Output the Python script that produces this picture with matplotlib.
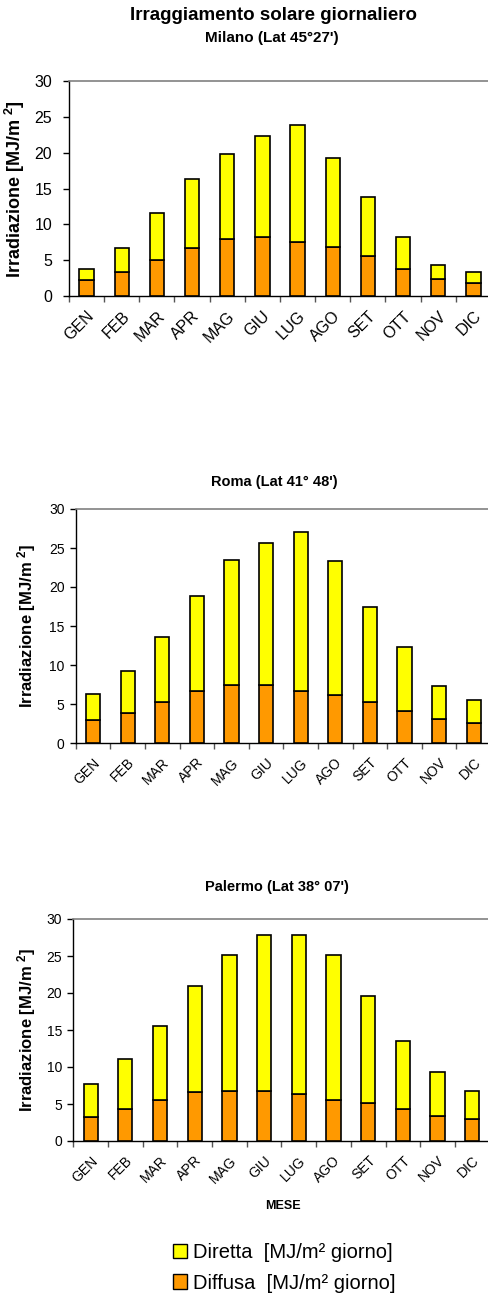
import matplotlib
matplotlib.use("Agg")
import matplotlib.pyplot as plt
from matplotlib.patches import Patch
import numpy as np

plt.rcParams['font.family'] = ['Liberation Sans', 'DejaVu Sans']
plt.rcParams['mathtext.fontset'] = 'custom'
plt.rcParams['mathtext.rm'] = 'Liberation Sans'
plt.rcParams['mathtext.bf'] = 'Liberation Sans:bold'

months = ["GEN", "FEB", "MAR", "APR", "MAG", "GIU",
          "LUG", "AGO", "SET", "OTT", "NOV", "DIC"]

# Daily irradiation [MJ/m² day]: total and diffuse component
milano_totale = [3.8, 6.7, 11.6, 16.4, 19.9, 22.3, 23.9, 19.3, 13.9, 8.2, 4.4, 3.3]
milano_diffusa = [2.2, 3.4, 5.0, 6.7, 7.9, 8.2, 7.5, 6.9, 5.6, 3.8, 2.4, 1.8]

roma_totale = [6.3, 9.2, 13.6, 18.9, 23.5, 25.7, 27.1, 23.3, 17.5, 12.3, 7.3, 5.5]
roma_diffusa = [2.9, 3.9, 5.3, 6.7, 7.4, 7.5, 6.7, 6.2, 5.3, 4.1, 3.1, 2.6]

palermo_totale = [7.7, 11.1, 15.6, 20.9, 25.2, 27.9, 27.9, 25.2, 19.6, 13.5, 9.3, 6.8]
palermo_diffusa = [3.2, 4.3, 5.5, 6.6, 6.8, 6.8, 6.3, 5.5, 5.2, 4.3, 3.4, 3.0]

YELLOW = "#FFFF00"
ORANGE = "#FF9900"

W, H = 489, 1296
fig = plt.figure(figsize=(W / 100, H / 100), dpi=100)


def px_axes(left, top, right, bottom):
    return fig.add_axes([left / W, 1 - bottom / H, (right - left) / W, (bottom - top) / H])


def draw_panel(ax, totale, diffusa, tick_fs, ylab_fs, ylab_x, ypad):
    x = np.arange(len(months))
    totale = np.asarray(totale)
    diffusa = np.asarray(diffusa)
    diretta = totale - diffusa
    ax.bar(x, diffusa, width=0.41, color=ORANGE, edgecolor="black", linewidth=1.2, zorder=3)
    ax.bar(x, diretta, width=0.41, bottom=diffusa, color=YELLOW, edgecolor="black",
           linewidth=1.2, zorder=3)
    ax.set_xlim(-0.5, 11.5)
    ax.set_ylim(0, 30)
    ax.set_yticks(np.arange(0, 31, 5))
    ax.set_xticks(x)
    ax.set_xticklabels(months, rotation=45, ha="right", rotation_mode="anchor",
                       fontsize=tick_fs)
    ax.set_xticks(np.arange(-0.5, 11.6, 1.0), minor=True)
    ax.tick_params(axis="x", which="major", length=0, pad=9)
    ax.tick_params(axis="x", which="minor", length=4, width=1, color="#555555")
    ax.tick_params(axis="y", length=4, width=1, labelsize=tick_fs, pad=ypad)
    for s in ("left", "bottom"):
        ax.spines[s].set_color("black")
        ax.spines[s].set_linewidth(1.0)
    ax.spines["top"].set_color("#808080")
    ax.spines["top"].set_linewidth(1.2)
    ax.spines["right"].set_visible(False)
    ax.set_ylabel(r"Irradiazione [MJ/m $\mathbf{^{2}}$]", fontsize=ylab_fs,
                  fontweight="bold")
    ax.yaxis.set_label_coords(ylab_x, 0.5)


# Milano
ax1 = px_axes(69, 81.3, 491, 296)
draw_panel(ax1, milano_totale, milano_diffusa, 11.5, 13, -0.0995, 8)
fig.text(274 / W, 1 - 16 / H, "Irraggiamento solare giornaliero", ha="center",
         va="center", fontsize=13.5, fontweight="bold")
fig.text(272 / W, 1 - 38 / H, "Milano (Lat 45°27')", ha="center", va="center",
         fontsize=11, fontweight="bold")

# Roma
ax2 = px_axes(75.7, 509, 491, 743)
draw_panel(ax2, roma_totale, roma_diffusa, 10, 12, -0.091, 4)
fig.text(274 / W, 1 - 482 / H, "Roma (Lat 41° 48')", ha="center", va="center",
         fontsize=10.5, fontweight="bold")

# Palermo
ax3 = px_axes(73.3, 919, 489.6, 1141)
draw_panel(ax3, palermo_totale, palermo_diffusa, 10, 12, -0.085, 4)
fig.text(277 / W, 1 - 887 / H, "Palermo (Lat 38° 07')", ha="center", va="center",
         fontsize=10.5, fontweight="bold")
fig.text(283 / W, 1 - 1206 / H, "MESE", ha="center", va="center",
         fontsize=9, fontweight="bold")

handles = [Patch(facecolor=YELLOW, edgecolor="black", linewidth=1.0),
           Patch(facecolor=ORANGE, edgecolor="black", linewidth=1.0)]
labels = ["Diretta  [MJ/m² giorno]", "Diffusa  [MJ/m² giorno]"]
fig.legend(handles, labels, loc="center left", bbox_to_anchor=(173 / W, 1 - 1268 / H),
           frameon=False, fontsize=14.5, handlelength=0.7, handleheight=0.7,
           handletextpad=0.3, labelspacing=0.55, borderpad=0, borderaxespad=0)

fig.savefig("out.png", dpi=100)
